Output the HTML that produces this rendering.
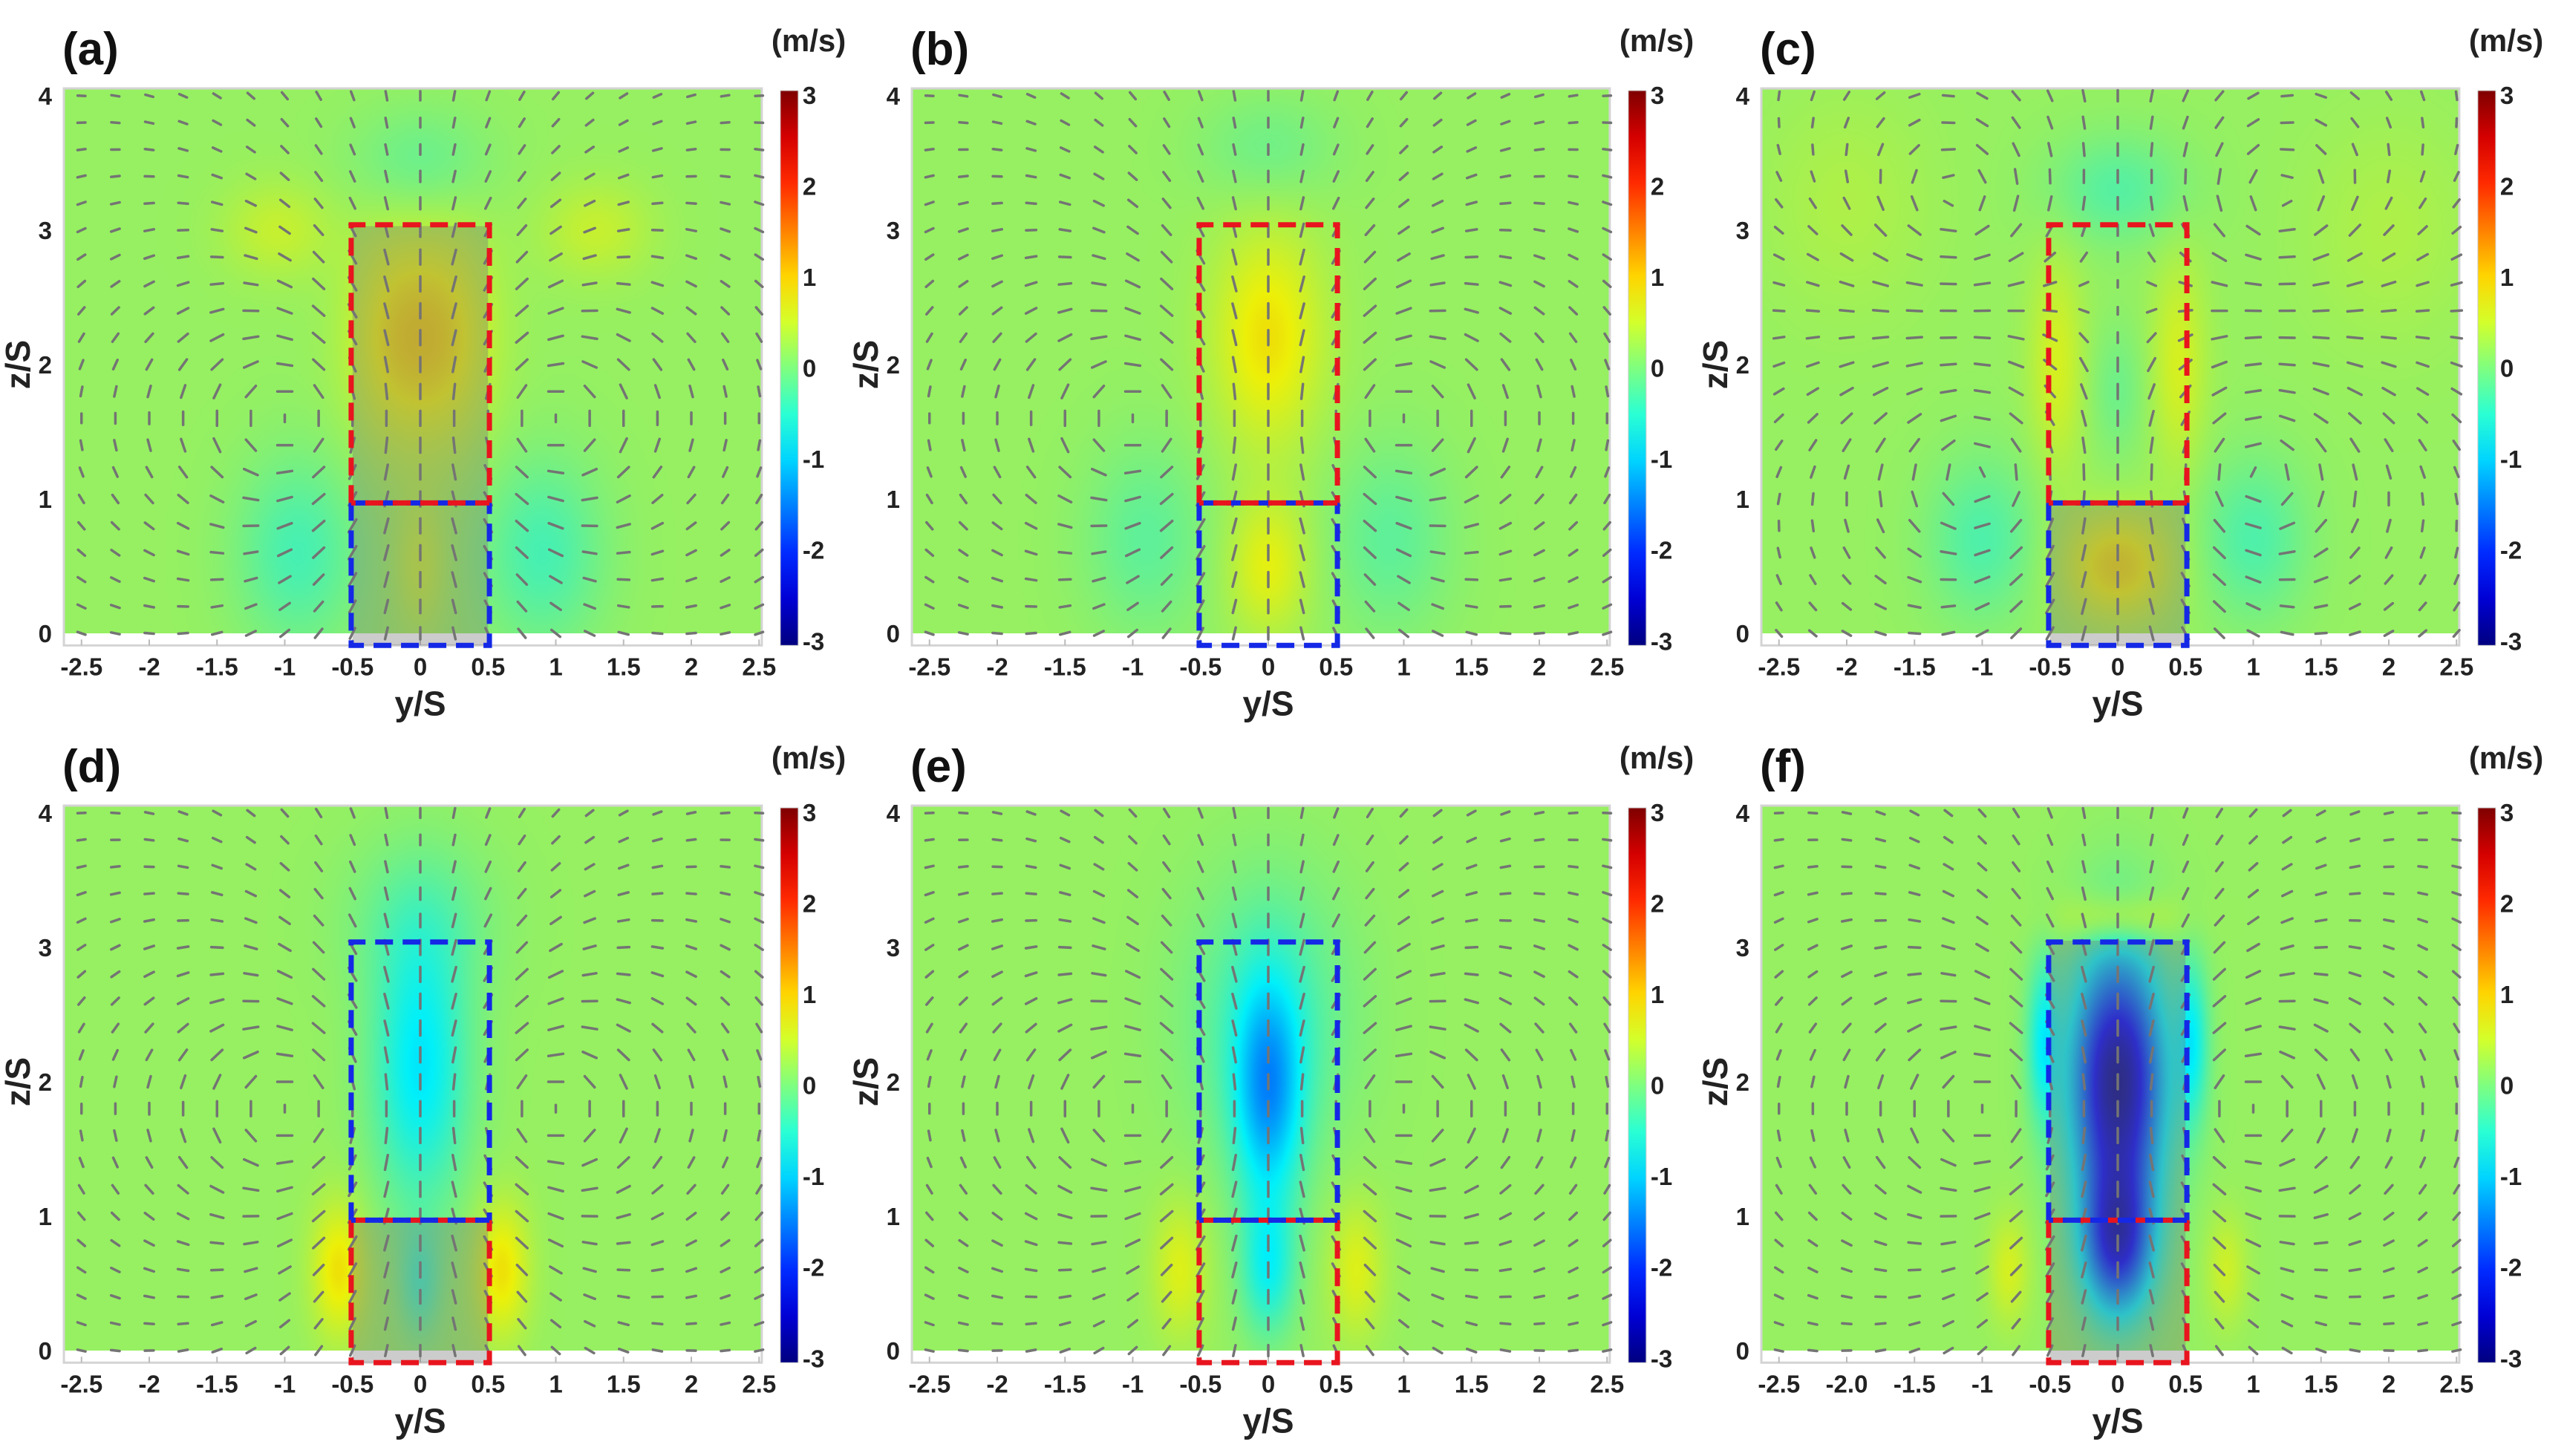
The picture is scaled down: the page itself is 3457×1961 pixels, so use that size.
<!DOCTYPE html>
<html><head><meta charset="utf-8">
<style>
html,body{margin:0;padding:0;background:#fff;}
#root{position:relative;width:3457px;height:1961px;overflow:hidden;background:#fff;font-family:"Liberation Sans",sans-serif;}
canvas{position:absolute;}
svg{position:absolute;left:0;top:0;}
</style></head>
<body>
<div id="root">
<svg id="svg" width="3457" height="1961"></svg>
</div>
<script>
// ---- data ----
const panelLabels = ["(a)","(b)","(c)","(d)","(e)","(f)"];
const xTickValues = [-2.5,-2,-1.5,-1,-0.5,0,0.5,1,1.5,2,2.5];
const xTickLabelsA = ["-2.5","-2","-1.5","-1","-0.5","0","0.5","1","1.5","2","2.5"];
const xTickLabelsF = ["-2.5","-2.0","-1.5","-1","-0.5","0","0.5","1","1.5","2","2.5"];
const zTickValues = [0,1,2,3,4];
const cbarTickValues = [3,2,1,0,-1,-2,-3];
const baseValue = 0.2;
// blobs: [y, z, ry, rz, amplitude (m/s)]
const blobsA = [[-0.2,2.2,0.35,0.8,0.55],[0.2,2.2,0.35,0.8,0.55],[-1.05,3.0,0.4,0.35,0.3],[1.3,3.0,0.4,0.35,0.3],[0,3.5,0.5,0.4,-0.3],[-0.9,0.6,0.45,0.7,-0.5],[0.9,0.6,0.45,0.7,-0.5],[0,0.5,0.2,0.5,0.3]];
const blobsB = [[0,2.2,0.4,0.8,0.65],[0,0.5,0.3,0.5,0.5],[-0.9,0.7,0.45,0.7,-0.35],[0.9,0.7,0.45,0.7,-0.35],[0,3.6,0.5,0.4,-0.25]];
const blobsC = [[-0.45,2.0,0.2,0.8,0.4],[0.45,2.0,0.2,0.8,0.4],[0,1.8,0.2,0.5,-0.25],[0,3.3,0.5,0.4,-0.4],[0,0.5,0.4,0.4,0.7],[-1.0,0.7,0.4,0.6,-0.45],[1.0,0.7,0.4,0.6,-0.45],[-2.0,3.2,0.6,0.8,0.15],[2.0,3.0,0.6,0.8,0.15]];
const blobsD = [[0,2.1,0.35,1.0,-1.0],[0,3.2,0.55,0.6,-0.3],[-0.6,0.6,0.2,0.5,0.65],[0.6,0.6,0.2,0.5,0.65],[0,0.5,0.15,0.4,-0.5]];
const blobsE = [[0,1.9,0.26,0.85,-1.3],[0,0.6,0.2,0.5,-0.8],[0,2.5,0.6,1.0,-0.5],[-0.65,0.6,0.2,0.5,0.45],[0.65,0.6,0.2,0.5,0.45]];
const blobsF = [[0,2.0,0.34,0.95,-3.1],[0,0.8,0.26,0.55,-2.2],[-0.55,2.3,0.12,0.6,-0.8],[0.55,2.3,0.12,0.6,-0.8],[0,3.2,0.4,0.2,0.6],[-0.8,0.6,0.15,0.4,0.4],[0.8,0.6,0.15,0.4,0.35]];
const blobs = [blobsA,blobsB,blobsC,blobsD,blobsE,blobsF];
// vortices: [y, z, circulation]
const vortA = [[-0.9,1.6,1],[0.9,1.6,-1]];
const vortB = [[-0.9,1.6,1],[0.9,1.6,-1]];
const vortC = [[-1,1.2,1],[1,1.2,-1],[-1.2,3.2,-0.6],[1.2,3.2,0.6]];
const vortD = [[-0.9,1.8,-1],[0.9,1.8,1]];
const vortE = [[-0.9,1.8,-1],[0.9,1.8,1]];
const vortF = [[-0.9,1.8,-1],[0.9,1.8,1]];
const vortices = [vortA,vortB,vortC,vortD,vortE,vortF];
const upperColors = ["#e8141e","#e8141e","#e8141e","#1428e6","#1428e6","#1428e6"];
const lowerColors = ["#1428e6","#1428e6","#1428e6","#e8141e","#e8141e","#e8141e"];
const shadeRanges = [[-0.09,3.03],null,[-0.09,0.95],[-0.09,0.99],null,[-0.09,3.05]];

// ---- layout ----
const DX=[0,1142,2286], DY=[0,966];
const SX=182.5, SZ=181;
const Y0=-2.63, Y1=2.52, ZTOP=4.055, ZBOT=-0.09;
const NS="http://www.w3.org/2000/svg";
const svg=document.getElementById('svg');
const root=document.getElementById('root');
function el(tag,attrs,parent){const e=document.createElementNS(NS,tag);for(const k in attrs)e.setAttribute(k,attrs[k]);(parent||svg).appendChild(e);return e;}
function jet(t){t=Math.max(0,Math.min(1,t));
 const r=Math.max(0,Math.min(1,1.5-Math.abs(4*t-3))),g=Math.max(0,Math.min(1,1.5-Math.abs(4*t-2))),b=Math.max(0,Math.min(1,1.5-Math.abs(4*t-1)));
 return [r*255,g*255,b*255];}
function fieldVal(p,y,z){let v=baseValue;for(const b of blobs[p]){const a=(y-b[0])/b[2],c=(z-b[1])/b[3];v+=b[4]*Math.exp(-a*a-c*c);}return v;}

for(let p=0;p<6;p++){
 const col=p%3,row=Math.floor(p/3);
 const ox=566+DX[col], oz=853+DY[row];
 const X=y=>ox+y*SX, Z=z=>oz-z*SZ;
 const g=el('g',{});
 
 
 const left=X(Y0),top=Z(ZTOP),w=X(Y1)-left,h=Z(0)-top;
 const cv=document.createElement('canvas');
 const cw=Math.round(w/2),ch=Math.round(h/2);
 cv.width=cw;cv.height=ch;
 cv.style.left=left+'px';cv.style.top=top+'px';cv.style.width=w+'px';cv.style.height=h+'px';
 
 
 const ctx=cv.getContext('2d');const im=ctx.createImageData(cw,ch);
 for(let j=0;j<ch;j++)for(let i=0;i<cw;i++){
  const y=Y0+(i+0.5)/cw*(Y1-Y0), z=ZTOP-(j+0.5)/ch*ZTOP;
  const c=jet((fieldVal(p,y,z)+3)/6);const k=(j*cw+i)*4;
  im.data[k]=c[0]*0.93;im.data[k+1]=c[1]*0.94;im.data[k+2]=c[2]*0.95+8;im.data[k+3]=255;}
 ctx.putImageData(im,0,0);
 root.insertBefore(cv,svg);
 el('rect',{x:left,y:Z(0),width:w,height:Z(ZBOT)-Z(0),fill:'#ffffff'},g);
 el('rect',{x:left,y:top,width:w,height:Z(ZBOT)-top,fill:'none',stroke:'#d4d4d4','stroke-width':3},g);
 for(const t of xTickValues) el('line',{x1:X(t),x2:X(t),y1:Z(ZBOT),y2:Z(ZBOT)-8,stroke:'#bbb','stroke-width':2},g);
 const sr=shadeRanges[p];
 if(sr){const s=el('rect',{x:X(-0.5),y:Z(sr[1]),width:X(0.5)-X(-0.5),height:Z(sr[0])-Z(sr[1]),fill:'rgba(120,120,120,0.38)'},g);
  }
 const qg=el('g',{stroke:'#747474','stroke-width':3.5,'stroke-linecap':'round'},g);
 
 for(let i=0;i<21;i++)for(let j=0;j<21;j++){
  const y=-2.5+i*0.25,z=j*0.2;let u=0,v=0;
  for(const q of vortices[p]){const dy=y-q[0],dz=z-q[1],r2=dy*dy+dz*dz+0.15;u+=-q[2]*dz/r2;v+=q[2]*dy/r2;}
  const m=Math.hypot(u,v)||1;const L=Math.min(10,4+m*8);
  const cx=X(y),cy=Z(z);
  el('line',{x1:cx-u/m*L,y1:cy+v/m*L,x2:cx+u/m*L,y2:cy-v/m*L},qg);}
 const bx0=X(-0.51),bx1=X(0.51);
 const dash={'stroke-width':7,fill:'none','stroke-dasharray':'24 13'};
 const ub=el('path',Object.assign({d:`M${bx0},${Z(0.97)}V${Z(3.04)}H${bx1}V${Z(0.97)}`,stroke:upperColors[p]},dash),g);
 
 const lb=el('path',Object.assign({d:`M${bx0},${Z(0.97)}V${Z(ZBOT)}H${bx1}V${Z(0.97)}`,stroke:lowerColors[p]},dash),g);
 
 el('line',Object.assign({x1:bx0,x2:bx1,y1:Z(0.97),y2:Z(0.97),stroke:lowerColors[p]},dash),g);
 el('line',Object.assign({x1:bx0,x2:bx1,y1:Z(0.97),y2:Z(0.97),stroke:upperColors[p],'stroke-dashoffset':18},dash),g);
 const xl=p==5?xTickLabelsF:xTickLabelsA;
 xTickValues.forEach((t,k)=>{const tx=el('text',{x:X(t),y:Z(ZBOT)+40,'font-size':33,'font-weight':'bold','text-anchor':'middle',fill:'#222'},g);tx.textContent=xl[k];
  });
 zTickValues.forEach(t=>{const tx=el('text',{x:X(Y0)-16,y:Z(t)+12,'font-size':33,'font-weight':'bold','text-anchor':'end',fill:'#222'},g);tx.textContent=t;
  });
 const xt=el('text',{x:X(0),y:Z(ZBOT)+94,'font-size':46,'font-weight':'bold','text-anchor':'middle',fill:'#222'},g);xt.textContent='y/S';
 
 const zt=el('text',{x:0,y:0,'font-size':46,'font-weight':'bold','text-anchor':'middle',fill:'#222',transform:`translate(${X(Y0)-46},${Z(2)}) rotate(-90)`},g);zt.textContent='z/S';
 
 const pl=el('text',{x:X(Y0)-2,y:Z(ZTOP)-32,'font-size':62,'font-weight':'bold',fill:'#111'},g);pl.textContent=panelLabels[p];
 
 const cbx=X(Y1)+25, cbt=Z(ZTOP)+3, cbb=Z(ZBOT);
 const gid='cb'+p;const defs=el('defs',{},g);const lg=el('linearGradient',{id:gid,x1:0,y1:1,x2:0,y2:0},defs);
 for(let s=0;s<=12;s++){const c=jet(s/12);el('stop',{offset:s/12,'stop-color':`rgb(${c[0]|0},${c[1]|0},${c[2]|0})`},lg);}
 const cb=el('rect',{x:cbx,y:cbt,width:24,height:cbb-cbt,fill:`url(#${gid})`,stroke:'#ccc','stroke-width':1},g);
 
 cbarTickValues.forEach(t=>{const yy=cbt+6+(3-t)/6*(cbb-cbt-12);
  const tx=el('text',{x:cbx+30,y:yy+12,'font-size':33,'font-weight':'bold',fill:'#222'},g);tx.textContent=t;
  });
 const un=el('text',{x:cbx-12,y:Z(ZTOP)-50,'font-size':42,'font-weight':'bold',fill:'#222'},g);un.textContent='(m/s)';
 
}
</script>
</body></html>
